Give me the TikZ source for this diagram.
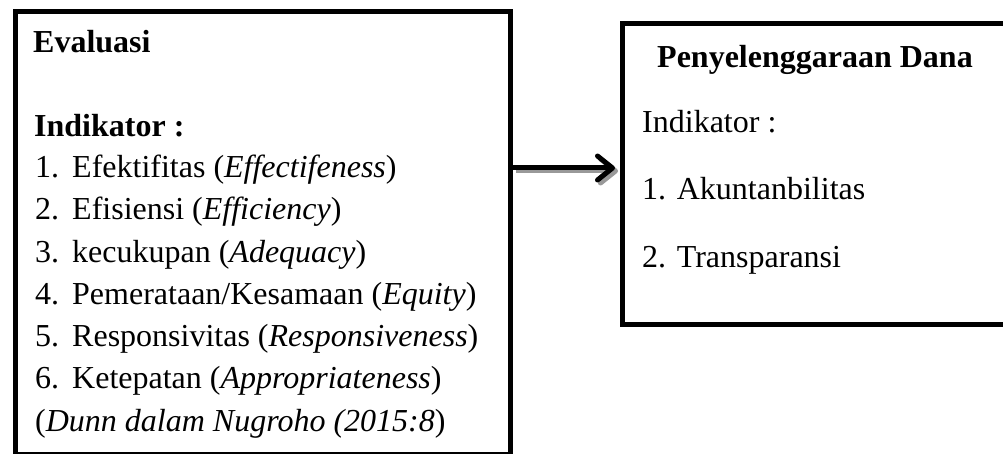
\documentclass[tikz,border=0pt]{standalone}
\usepackage{fontspec}
\setmainfont{Liberation Serif}
\usetikzlibrary{arrows.meta}
\tikzset{
  frame/.style={draw=black, line width=5pt, rectangle, inner sep=0pt},
  txt/.style={anchor=base west, inner sep=0pt, font=\fontsize{32}{38}\selectfont},
  btxt/.style={txt, font=\fontsize{32}{38}\selectfont\bfseries},
  link/.style={line width=5pt, -{Straight Barb[length=15pt,width=24pt,line cap=round,line join=round]}},
  linkshadow/.style={link, draw=black!40}
}
\begin{document}
\begin{tikzpicture}[x=1pt,y=-1pt]
\clip (0,0) rectangle (1003,454);
\fill[white] (0,0) rectangle (1003,454);
% boxes
\node[frame, minimum width=495pt, minimum height=442pt, anchor=north west] (L) at (12.5,9.5) {};
\node[frame, minimum width=420pt, minimum height=300.5pt, anchor=north west] (R) at (620,21) {};
% left texts
\node[btxt] (ev) at (33,53) {Evaluasi};
\node[btxt] (ind) at (34,137) {Indikator :};
\node[txt] (n1) at (35,178) {1.};
\node[txt] (t1) at (72,178) {Efektifitas (\textit{Effectifeness})};
\node[txt] (n2) at (35,220) {2.};
\node[txt] (t2) at (72,220) {Efisiensi (\textit{Efficiency})};
\node[txt] (n3) at (35,262) {3.};
\node[txt] (t3) at (72,262) {kecukupan (\textit{Adequacy})};
\node[txt] (n4) at (35,304) {4.};
\node[txt] (t4) at (72,304) {Pemerataan/Kesamaan (\textit{Equity})};
\node[txt] (n5) at (35,346) {5.};
\node[txt] (t5) at (72,346) {Responsivitas (\textit{Responsiveness})};
\node[txt] (n6) at (35,388) {6.};
\node[txt] (t6) at (72,388) {Ketepatan (\textit{Appropriateness})};
\node[txt] (src) at (35,431) {(\textit{Dunn dalam Nugroho (2015:8})};
% right texts
\node[btxt] (pd) at (657,68) {Penyelenggaraan Dana};
\node[txt] (rind) at (642,133) {Indikator :};
\node[txt] (r1) at (642,200) {1. Akuntanbilitas};
\node[txt] (r2) at (642,267) {2. Transparansi};
% arrow
\coordinate (ay) at (0,168);
\coordinate (ays) at (0,171);
\draw[linkshadow, shorten >=5pt] ([xshift=3pt]L.east |- ays) -- ([xshift=3pt]R.west |- ays);
\draw[link, shorten >=5pt] (L.east |- ay) -- (R.west |- ay);
\end{tikzpicture}
\end{document}
